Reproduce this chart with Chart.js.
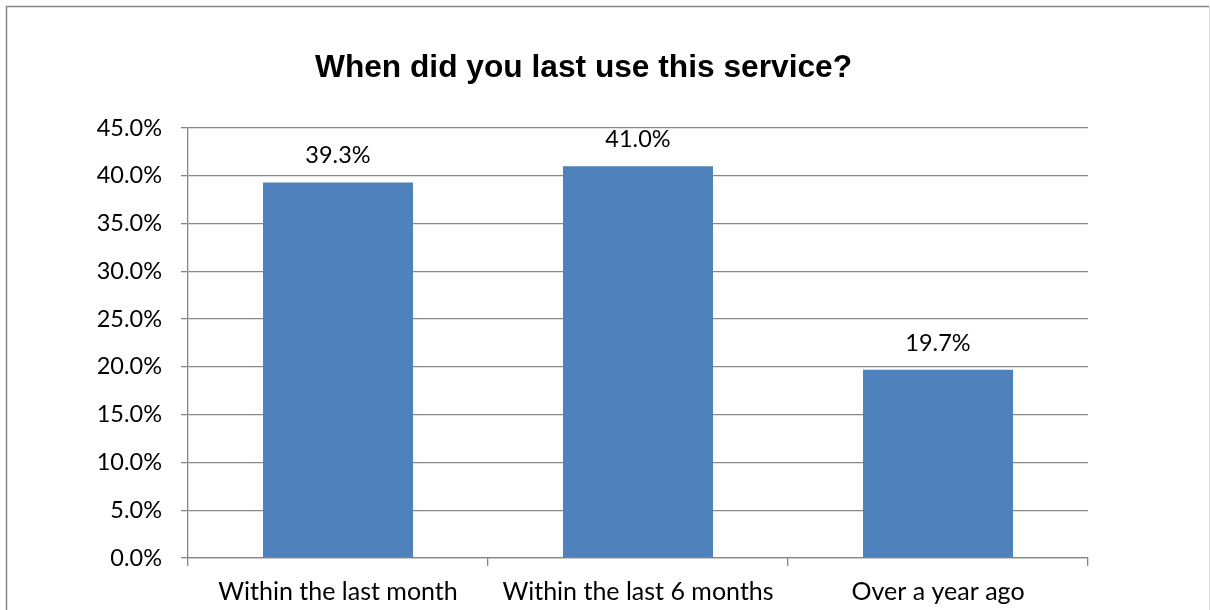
<!DOCTYPE html>
<html>
<head>
<meta charset="utf-8">
<title>When did you last use this service?</title>
<script src="https://cdn.jsdelivr.net/npm/chart.js@4.4.1/dist/chart.umd.min.js"></script>
<style>
    html, body { margin: 0; padding: 0; background: #ffffff; }
    #serviceChart { display: block; }
</style>
</head>
<body>
<canvas id="serviceChart" width="1210" height="610"></canvas>
<script>
const chartTitle = "When did you last use this service?";
const categories = ["Within the last month", "Within the last 6 months", "Over a year ago"];
const shareOfUsers = [39.3, 41.0, 19.7];
const tickValues = [0, 5, 10, 15, 20, 25, 30, 35, 40, 45];

const categoryFont = { family: "Lato", size: 25 };
const numberFont = { family: "Lato", size: 23.5 };
const lineGray = '#868686';

// frame around the whole chart
const framePlugin = {
    id: 'frame',
    beforeDraw(chart) {
        const ctx = chart.ctx;
        ctx.save();
        ctx.lineWidth = 1.5;
        ctx.strokeStyle = lineGray;
        ctx.beginPath();
        ctx.moveTo(6.5, chart.height + 10);
        ctx.lineTo(6.5, 6.5);
        ctx.lineTo(1209, 6.5);
        ctx.stroke();
        ctx.strokeStyle = '#d9d9d9';
        ctx.lineWidth = 1;
        ctx.beginPath();
        ctx.moveTo(1209.5, 6.5);
        ctx.lineTo(1209.5, chart.height + 10);
        ctx.stroke();
        ctx.restore();
    }
};

// bold title, a little left of centre
const titlePlugin = {
    id: 'sheetTitle',
    afterDraw(chart) {
        const ctx = chart.ctx;
        ctx.save();
        ctx.font = "bold 31.7px 'Liberation Sans', Arial, sans-serif";
        ctx.fillStyle = '#000000';
        ctx.textAlign = 'center';
        ctx.textBaseline = 'alphabetic';
        ctx.fillText(chartTitle, 583.5, 76.7);
        ctx.restore();
    }
};

// value labels on top of each bar
const valueLabelPlugin = {
    id: 'valueLabels',
    afterDatasetsDraw(chart) {
        const ctx = chart.ctx;
        const meta = chart.getDatasetMeta(0);
        ctx.save();
        ctx.font = numberFont.size + "px " + numberFont.family;
        ctx.fillStyle = '#000000';
        ctx.textAlign = 'center';
        ctx.textBaseline = 'alphabetic';
        meta.data.forEach(function(bar, i) {
            ctx.fillText(shareOfUsers[i].toFixed(1) + '%', bar.x, bar.y - 19);
        });
        ctx.restore();
    }
};

function drawServiceChart() {
    let ctx = document.getElementById("serviceChart").getContext('2d');
    new Chart(ctx, {
        type: 'bar',
        data: {
            labels: categories,
            datasets: [{
                data: shareOfUsers,
                backgroundColor: '#4F81BD',
                borderWidth: 0,
                barPercentage: 0.5,
                categoryPercentage: 1.0
            }]
        },
        options: {
            responsive: false,
            animation: false,
            devicePixelRatio: 1,
            layout: {
                padding: { left: 0, right: 122, top: 128, bottom: 0 }
            },
            plugins: {
                legend: { display: false },
                title: { display: false },
                tooltip: { enabled: false }
            },
            scales: {
                x: {
                    offset: true,
                    grid: {
                        offset: true,
                        drawOnChartArea: false,
                        drawTicks: true,
                        tickLength: 8,
                        color: lineGray,
                        lineWidth: 1.3
                    },
                    border: { display: true, color: lineGray, width: 1.3 },
                    ticks: {
                        color: '#000000',
                        font: categoryFont,
                        padding: 11,
                        maxRotation: 0,
                        autoSkip: false
                    },
                    afterFit(scale) { scale.height = 52; }
                },
                y: {
                    min: 0,
                    max: 45,
                    afterBuildTicks(scale) {
                        scale.ticks = tickValues.map(v => ({ value: v }));
                    },
                    grid: {
                        color: lineGray,
                        lineWidth: 1.3,
                        drawTicks: true,
                        tickLength: 7
                    },
                    border: { display: true, color: lineGray, width: 1.3 },
                    ticks: {
                        color: '#000000',
                        font: numberFont,
                        padding: 19,
                        callback: v => v.toFixed(1) + '%'
                    },
                    afterFit(scale) { scale.width = 188; }
                }
            }
        },
        plugins: [framePlugin, titlePlugin, valueLabelPlugin]
    });
}

drawServiceChart();
</script>
</body>
</html>
